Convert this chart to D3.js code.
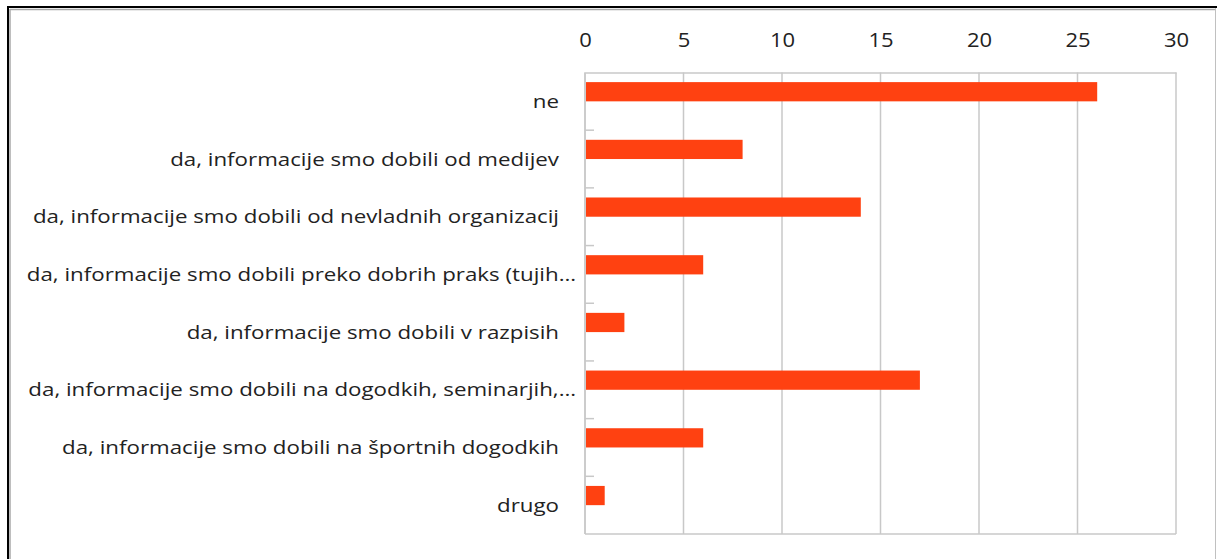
<!DOCTYPE html>
<html><head><meta charset="utf-8">
<script src="https://cdn.jsdelivr.net/npm/d3@7"></script>
<style>html,body{margin:0;padding:0;background:#fff;}</style>
</head><body>
<script>
const categories = [
  "ne",
  "da, informacije smo dobili od medijev",
  "da, informacije smo dobili od nevladnih organizacij",
  "da, informacije smo dobili preko dobrih praks (tujih…",
  "da, informacije smo dobili v razpisih",
  "da, informacije smo dobili na dogodkih, seminarjih,…",
  "da, informacije smo dobili na športnih dogodkih",
  "drugo"
];
const values = [26, 8, 14, 6, 2, 17, 6, 1];
const tickValues = [0, 5, 10, 15, 20, 25, 30];

const W = 1217, H = 559;
const svg = d3.select("body").append("svg").attr("width", W).attr("height", H);
const font = "Open Sans, sans-serif";

// frame
svg.append("line").attr("x1",8).attr("y1",7).attr("x2",1217).attr("y2",7).attr("stroke","#000").attr("stroke-width",2);
svg.append("line").attr("x1",8).attr("y1",6).attr("x2",8).attr("y2",559).attr("stroke","#000").attr("stroke-width",2);
svg.append("line").attr("x1",10).attr("y1",9.5).attr("x2",1215).attr("y2",9.5).attr("stroke","#a8a8a8").attr("stroke-width",1.5);
svg.append("line").attr("x1",10).attr("y1",9).attr("x2",10).attr("y2",559).attr("stroke","#a8a8a8").attr("stroke-width",1.5);
svg.append("line").attr("x1",1215.5).attr("y1",8).attr("x2",1215.5).attr("y2",559).attr("stroke","#c0c0c0").attr("stroke-width",1);

const x0 = 585, x1 = 1176, y0 = 72.5, y1 = 534;
const x = d3.scaleLinear().domain([0, 30]).range([x0, x1]);
const y = d3.scaleBand().domain(categories).range([y0, y1]).padding(0);
const bw = y.bandwidth();

// gridlines
svg.append("g").selectAll("line").data(tickValues).join("line")
  .attr("x1", d => x(d)).attr("x2", d => x(d))
  .attr("y1", y0).attr("y2", y1)
  .attr("stroke", "#c8c8c8").attr("stroke-width", 1.5);

// top axis
const ax = svg.append("g").attr("transform", `translate(0,${y0})`)
  .call(d3.axisTop(x).tickValues(tickValues).tickSize(0).tickPadding(0));
ax.select(".domain").attr("stroke", "#c8c8c8").attr("stroke-width", 1.5);
ax.selectAll(".tick text")
  .attr("y", 0).attr("dy", null)
  .attr("font-family", font).attr("font-size", 20).attr("fill", "#222")
  .attr("transform", "translate(0,-25.5) scale(1.1,1)");

// bottom axis line
svg.append("line").attr("x1", x0).attr("x2", x1).attr("y1", y1).attr("y2", y1)
  .attr("stroke", "#c8c8c8").attr("stroke-width", 1.5);
// left axis line
svg.append("line").attr("x1", x0).attr("x2", x0).attr("y1", y0).attr("y2", y1)
  .attr("stroke", "#c8c8c8").attr("stroke-width", 1.5);

// category ticks
const boundaries = categories.slice(1).map(c => y(c));
svg.append("g").selectAll("line").data(boundaries).join("line")
  .attr("x1", x0).attr("x2", x0 + 9).attr("y1", d => d).attr("y2", d => d)
  .attr("stroke", "#c8c8c8").attr("stroke-width", 1.5);

// bars
svg.append("g").selectAll("rect").data(values).join("rect")
  .attr("x", x(0) + 1)
  .attr("y", (d, i) => y(categories[i]) + bw / 6)
  .attr("width", d => x(d) - x(0) - 1)
  .attr("height", bw / 3)
  .attr("fill", "#ff4111");

// labels
svg.append("g").selectAll("text").data(categories).join("text")
  .attr("transform", d => `translate(${d.endsWith("…") ? 576 : 559},${y(d) + bw / 2 + 6.5}) scale(1.24,1)`)
  .attr("text-anchor", "end")
  .attr("font-family", font).attr("font-size", 18).attr("fill", "#222")
  .text(d => d);
</script>
</body></html>
